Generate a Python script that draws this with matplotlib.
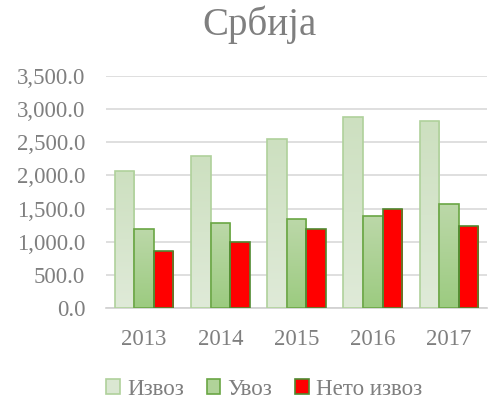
import matplotlib.pyplot as plt
import matplotlib.colors as mcolors
import numpy as np

# Serbia trade by year
years = ['2013', '2014', '2015', '2016', '2017']
izvoz = [2070, 2287, 2553, 2884, 2813]
uvoz = [1195, 1284, 1349, 1389, 1570]
neto = [868, 998, 1194, 1489, 1244]

plt.rcParams['font.family'] = ['Liberation Serif', 'DejaVu Serif']
grey = '#7f7f7f'

fig = plt.figure(figsize=(4.88, 4.0), dpi=100)
ax = fig.add_axes([0.2172, 0.2293, 0.7808, 0.5815])

x = np.arange(len(years))
w = 0.257

series = [
    (izvoz, 'Извоз', '#dae7d2', '#cde0c0', '#dfead8', '#afd19b'),
    (uvoz, 'Увоз', '#b0d399', '#bcd8a9', '#9ccb80', '#6aa644'),
    (neto, 'Нето извоз', '#ff0000', '#ff0000', '#ff0000', '#4f8a30'),
]

handles = []
for i, (vals, label, face, c_top, c_bot, edge) in enumerate(series):
    bars = ax.bar(x + (i - 1) * w, vals, w, color=face, edgecolor=edge,
                  linewidth=1.2, label=label, zorder=3)
    cmap = mcolors.LinearSegmentedColormap.from_list('g', [c_bot, c_top])
    grad = np.linspace(0, 1, 64).reshape(-1, 1)
    for b in bars:
        bx, by = b.get_x(), b.get_y()
        img = ax.imshow(grad, cmap=cmap, origin='lower', aspect='auto',
                        extent=[bx, bx + b.get_width(), by, by + b.get_height()],
                        zorder=3)
        img.set_clip_path(b)
        b.set_facecolor('none')
        b.set_zorder(4)
    handles.append(plt.Rectangle((0, 0), 1, 1, facecolor=face, edgecolor=edge, linewidth=1.2))

ax.set_xlim(-0.5, len(years) - 0.5)
ax.set_ylim(0, 3500)
ax.set_yticks(np.arange(0, 3501, 500))
ax.set_yticklabels([f'{v:,.1f}' for v in np.arange(0, 3501, 500)])
ax.set_xticks(x)
ax.set_xticklabels(years)
ax.grid(axis='y', color='#d9d9d9', linewidth=1.2, zorder=0)
ax.set_axisbelow(True)
for s in ['top', 'right', 'left']:
    ax.spines[s].set_visible(False)
ax.spines['bottom'].set_color('#d0d0d0')
ax.spines['bottom'].set_linewidth(1.2)
ax.tick_params(axis='both', length=0, labelsize=16.5, labelcolor=grey)
ax.tick_params(axis='y', pad=15)
ax.tick_params(axis='x', pad=15)

fig.text(0.531, 0.938, 'Србија', ha='center', va='center', fontsize=28, color=grey)

fig.legend(handles, [s[1] for s in series], loc='center', bbox_to_anchor=(0.541, 0.027),
           ncol=3, frameon=False, fontsize=16.5, labelcolor=grey,
           handlelength=0.6, handleheight=0.6, handletextpad=0.3, columnspacing=1.0,
           borderaxespad=0)

fig.savefig('out.png', dpi=100)
